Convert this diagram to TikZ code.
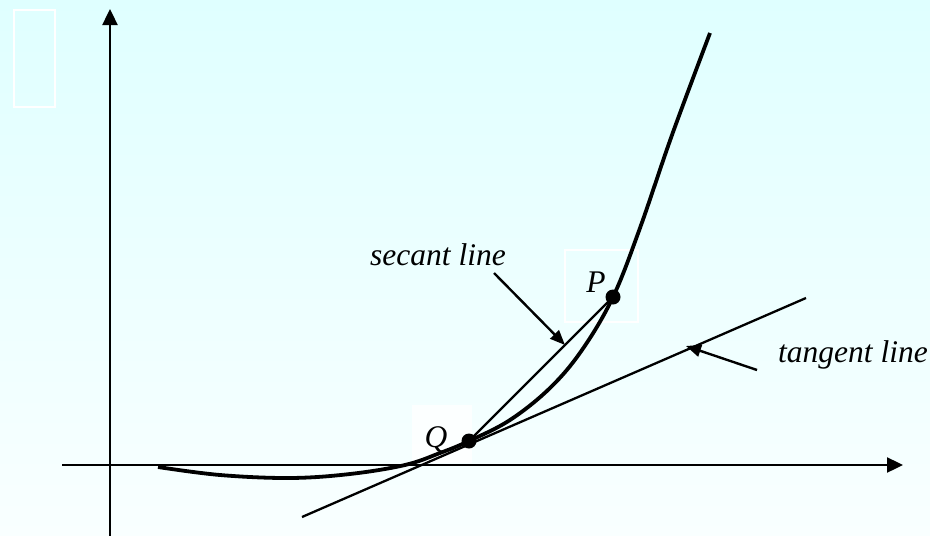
\documentclass[tikz,border=0pt]{standalone}
\usepackage{fontspec}
\setmainfont{Liberation Serif}
\usetikzlibrary{arrows.meta}
\begin{document}
\begin{tikzpicture}[x=1pt,y=-1pt,
  axis/.style={line width=2.4pt,-{Triangle[length=16pt,width=15pt]}},
  pointer/.style={line width=2.4pt,-{Triangle[length=15pt,width=12pt]}},
  curveline/.style={line width=3.8pt},
  thinline/.style={line width=2.3pt},
  lbl/.style={font=\fontsize{31.5}{36}\selectfont\itshape, inner sep=0pt},
  dot/.style={circle,fill=black,inner sep=0pt,minimum size=15pt},
  ghost/.style={draw=white,line width=1.2pt}]
\shade[top color={rgb,255:red,223;green,255;blue,255},bottom color={rgb,255:red,249;green,255;blue,255}] (0,0) rectangle (930,536);
\useasboundingbox (0,0) rectangle (930,536);
% white placeholder boxes
\draw[ghost] (14,10) rectangle (55,107);
\fill[white,opacity=0.8] (412,405) rectangle (472,463);
\draw[ghost] (565,250) rectangle (638,322);
% axes
\coordinate (yb) at (110,536);
\coordinate (yt) at (110,9);
\coordinate (xl) at (62,465);
\coordinate (xr) at (903,465);
\draw[axis] (yb) -- (yt);
\draw[axis] (xl) -- (xr);
% points
\coordinate (Q) at (469,441);
\coordinate (P) at (613,297);
% tangent line
\coordinate (t1) at (302,517);
\coordinate (t2) at (806,298);
\draw[thinline] (t1) -- (t2);
% secant line
\draw[thinline] (Q) -- (P);
% curve
\draw[curveline] plot[smooth,tension=0.6] coordinates {(158,467) (220,475) (290,478) (350,474) (405,465) (440,453) (469,441) (510,420) (550,388) (582,350) (613,297) (640,228) (672,135) (710,33)};
\node[dot] (Pd) at (P) {};
\node[dot] (Qd) at (Q) {};
% labels
\node[lbl] (Plbl) at (596,282) {P};
\node[lbl] (Qlbl) at (436,440) {Q};
\node[lbl,anchor=base west] (sec) at (370,265) {secant line};
\node[lbl,anchor=base west] (tan) at (778,362) {tangent line};
% pointers
\coordinate (sa) at (494,273);
\coordinate (sb) at (565,345);
\draw[pointer] (sa) -- (sb);
\coordinate (ta) at (757,370);
\coordinate (tb) at (686,346);
\draw[pointer] (ta) -- (tb);
\end{tikzpicture}
\end{document}
